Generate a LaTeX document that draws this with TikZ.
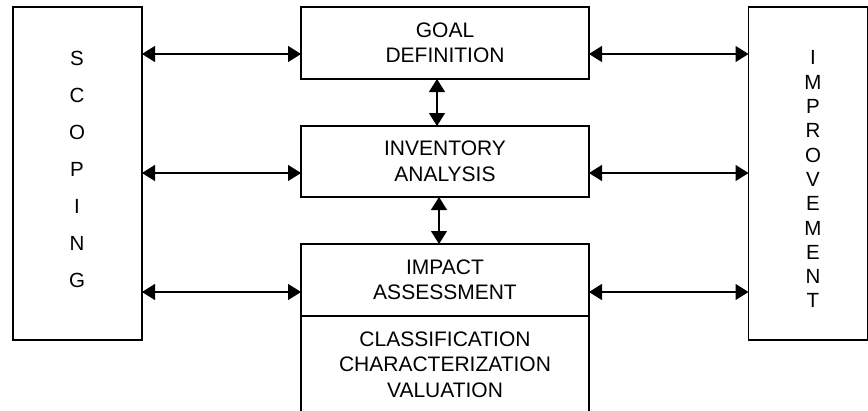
\documentclass[tikz,border=0pt]{standalone}
\usepackage{fontspec}
\setmainfont{Liberation Sans}
\usetikzlibrary{arrows.meta}
\begin{document}
\begin{tikzpicture}[x=1pt,y=-1pt,
  box/.style={draw=black,line width=1.7pt,rectangle,inner sep=0pt,outer sep=0pt,align=center,font=\fontsize{21}{25.5}\selectfont},
  vtext/.style={inner sep=0pt,align=center},
  biarrow/.style={line width=1.2pt,{Triangle[length=13pt,width=16pt]}-{Triangle[length=13pt,width=16pt]}}]
\useasboundingbox (0,0) rectangle (868,410);
% side boxes
\node[box,minimum width=129pt,minimum height=333pt] (scoping) at (77.5,173.5) {};
\node[vtext,font=\fontsize{20.5}{37}\selectfont] (scopingtext) at (77,169) {S\\C\\O\\P\\I\\N\\G};
\node[box,minimum width=119pt,minimum height=333pt] (improvement) at (808,173.5) {};
\node[vtext,font=\fontsize{20.5}{24.3}\selectfont] (improvementtext) at (813,179.4) {I\\M\\P\\R\\O\\V\\E\\M\\E\\N\\T};
% central boxes
\node[box,minimum width=288pt,minimum height=72pt] (goal) at (445,43) {GOAL\\DEFINITION};
\node[box,minimum width=288pt,minimum height=71pt] (inventory) at (445,161.5) {INVENTORY\\ANALYSIS};
\node[box,minimum width=288pt,minimum height=72pt] (impact) at (445,280) {IMPACT\\ASSESSMENT};
\node[box,minimum width=288pt,minimum height=96pt] (methods) at (445,364.5) {CLASSIFICATION\\CHARACTERIZATION\\VALUATION};
% horizontal connectors
\draw[biarrow] (scoping.east |- 0,54) -- (goal.west |- 0,54);
\draw[biarrow] (scoping.east |- 0,173) -- (inventory.west |- 0,173);
\draw[biarrow] (scoping.east |- 0,292) -- (impact.west |- 0,292);
\draw[biarrow] (goal.east |- 0,54) -- (improvement.west |- 0,54);
\draw[biarrow] (inventory.east |- 0,173) -- (improvement.west |- 0,173);
\draw[biarrow] (impact.east |- 0,292) -- (improvement.west |- 0,292);
% vertical connectors
\draw[biarrow] (goal.south -| 437,0) -- (inventory.north -| 437,0);
\draw[biarrow] (inventory.south -| 439,0) -- (impact.north -| 439,0);
\end{tikzpicture}
\end{document}
